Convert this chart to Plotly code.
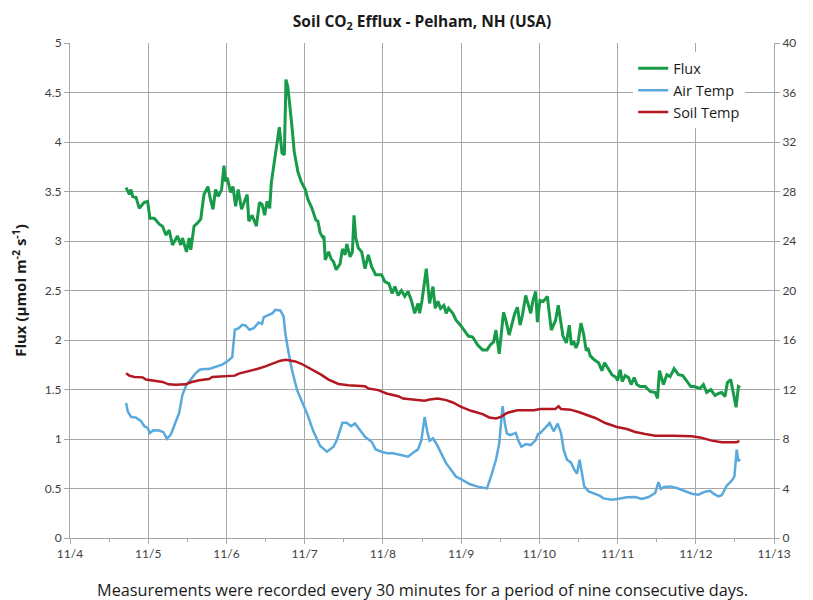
import pandas as pd
import plotly.graph_objects as go

# Time axis: days elapsed since 11/4 00:00
BASE = "2012-11-04"

flux_days = [0.717, 0.759, 0.780, 0.802, 0.844, 0.886, 0.950, 0.992, 1.022, 1.077, 1.141, 1.183, 1.226, 1.268,
             1.310, 1.374, 1.416, 1.438, 1.489, 1.523, 1.544, 1.586, 1.628, 1.671, 1.713, 1.764, 1.790, 1.828,
             1.861, 1.896, 1.938, 1.968, 1.989, 2.010, 2.053, 2.083, 2.117, 2.150, 2.193, 2.235, 2.265, 2.286,
             2.328, 2.383, 2.422, 2.455, 2.489, 2.519, 2.553, 2.574, 2.625, 2.676, 2.710, 2.740, 2.761, 2.786,
             2.837, 2.867, 2.913, 2.956, 3.008, 3.042, 3.093, 3.144, 3.169, 3.199, 3.229, 3.246, 3.263, 3.305,
             3.339, 3.369, 3.403, 3.453, 3.483, 3.517, 3.538, 3.581, 3.610, 3.631, 3.653, 3.686, 3.729, 3.771,
             3.814, 3.856, 3.907, 3.983, 4.025, 4.076, 4.119, 4.153, 4.195, 4.237, 4.280, 4.322, 4.364, 4.407,
             4.449, 4.470, 4.500, 4.555, 4.597, 4.640, 4.669, 4.703, 4.737, 4.780, 4.809, 4.839, 4.894, 4.936,
             4.992, 5.042, 5.093, 5.148, 5.212, 5.275, 5.331, 5.373, 5.415, 5.445, 5.487, 5.542, 5.572, 5.614,
             5.657, 5.686, 5.720, 5.754, 5.784, 5.826, 5.869, 5.890, 5.919, 5.953, 5.975, 6.008, 6.051, 6.102,
             6.153, 6.208, 6.242, 6.268, 6.302, 6.345, 6.383, 6.409, 6.438, 6.468, 6.494, 6.532, 6.566, 6.600,
             6.621, 6.651, 6.702, 6.757, 6.800, 6.834, 6.885, 6.928, 6.983, 7.000, 7.034, 7.060, 7.098, 7.140,
             7.174, 7.213, 7.247, 7.289, 7.353, 7.417, 7.481, 7.511, 7.536, 7.587, 7.630, 7.672, 7.723, 7.779,
             7.834, 7.885, 7.936, 7.979, 8.013, 8.055, 8.098, 8.140, 8.191, 8.247, 8.289, 8.332, 8.374, 8.404,
             8.447, 8.481, 8.515, 8.545, 8.566]
flux_vals = [3.54, 3.47, 3.52, 3.45, 3.44, 3.33, 3.39, 3.40, 3.23, 3.23, 3.17, 3.15, 3.06, 3.11,
             2.96, 3.05, 2.96, 3.03, 2.89, 3.03, 2.91, 3.15, 3.18, 3.22, 3.47, 3.55, 3.44, 3.32,
             3.52, 3.45, 3.52, 3.76, 3.60, 3.64, 3.49, 3.55, 3.35, 3.52, 3.32, 3.40, 3.47, 3.20,
             3.26, 3.15, 3.39, 3.37, 3.26, 3.40, 3.33, 3.59, 3.86, 4.15, 3.89, 3.87, 4.63, 4.55,
             4.16, 3.90, 3.70, 3.60, 3.52, 3.42, 3.33, 3.21, 3.20, 3.08, 3.04, 3.05, 2.81, 2.89,
             2.82, 2.79, 2.71, 2.77, 2.92, 2.86, 2.97, 2.84, 2.89, 3.26, 3.03, 2.93, 2.89, 2.72,
             2.86, 2.74, 2.66, 2.66, 2.59, 2.57, 2.47, 2.54, 2.45, 2.50, 2.44, 2.49, 2.40, 2.27,
             2.37, 2.27, 2.40, 2.72, 2.37, 2.54, 2.32, 2.39, 2.32, 2.35, 2.27, 2.32, 2.27, 2.20,
             2.15, 2.10, 2.04, 2.03, 1.95, 1.90, 1.90, 1.95, 1.98, 2.10, 1.86, 2.28, 2.20, 2.05,
             2.17, 2.27, 2.33, 2.15, 2.25, 2.45, 2.33, 2.27, 2.40, 2.49, 2.18, 2.40, 2.39, 2.44,
             2.10, 2.20, 2.35, 2.19, 2.04, 1.97, 2.15, 1.95, 1.99, 1.92, 1.97, 2.17, 2.06, 1.89,
             1.92, 1.84, 1.80, 1.77, 1.69, 1.77, 1.70, 1.65, 1.62, 1.59, 1.70, 1.58, 1.64, 1.62,
             1.55, 1.62, 1.55, 1.53, 1.53, 1.48, 1.47, 1.41, 1.69, 1.55, 1.65, 1.63, 1.71, 1.65,
             1.64, 1.58, 1.53, 1.53, 1.52, 1.51, 1.55, 1.47, 1.50, 1.44, 1.46, 1.47, 1.43, 1.57,
             1.60, 1.45, 1.32, 1.53, 1.52]

air_days = [0.717, 0.738, 0.780, 0.844, 0.908, 0.950, 0.992, 1.022, 1.064, 1.141, 1.196, 1.238, 1.289, 1.332,
            1.395, 1.438, 1.489, 1.544, 1.607, 1.658, 1.713, 1.777, 1.861, 1.946, 2.010, 2.074, 2.107, 2.158,
            2.201, 2.243, 2.294, 2.349, 2.413, 2.455, 2.477, 2.540, 2.591, 2.625, 2.689, 2.731, 2.752, 2.795,
            2.837, 2.901, 2.966, 3.030, 3.114, 3.199, 3.284, 3.369, 3.411, 3.483, 3.538, 3.593, 3.644, 3.708,
            3.771, 3.856, 3.907, 3.983, 4.059, 4.131, 4.216, 4.322, 4.386, 4.449, 4.492, 4.534, 4.568, 4.597,
            4.640, 4.682, 4.746, 4.809, 4.873, 4.936, 5.021, 5.106, 5.212, 5.297, 5.331, 5.381, 5.445, 5.487,
            5.508, 5.530, 5.559, 5.585, 5.627, 5.699, 5.729, 5.771, 5.826, 5.890, 5.953, 5.983, 6.013, 6.077,
            6.132, 6.183, 6.234, 6.277, 6.311, 6.353, 6.404, 6.447, 6.481, 6.515, 6.545, 6.574, 6.630, 6.694,
            6.770, 6.821, 6.928, 7.034, 7.119, 7.226, 7.311, 7.396, 7.481, 7.523, 7.553, 7.596, 7.672, 7.757,
            7.843, 7.949, 8.034, 8.119, 8.183, 8.226, 8.289, 8.332, 8.396, 8.460, 8.494, 8.523, 8.545, 8.566]
air_vals = [10.91, 10.24, 9.79, 9.73, 9.44, 9.03, 8.90, 8.49, 8.71, 8.68, 8.55, 8.01, 8.36, 9.03,
            10.11, 11.59, 12.39, 12.80, 13.33, 13.60, 13.66, 13.66, 13.82, 14.01, 14.27, 14.62, 16.83, 16.96,
            17.23, 17.18, 16.83, 16.96, 17.42, 17.31, 17.85, 18.04, 18.17, 18.44, 18.39, 17.90, 16.56, 14.95,
            13.60, 11.99, 11.00, 10.06, 8.58, 7.43, 6.97, 7.37, 7.91, 9.31, 9.31, 9.04, 9.26, 8.72,
            8.18, 7.78, 7.16, 6.97, 6.84, 6.84, 6.70, 6.57, 6.89, 7.16, 7.91, 9.79, 8.58, 7.86,
            8.05, 7.64, 6.84, 6.03, 5.49, 4.95, 4.68, 4.36, 4.15, 4.01, 4.01, 4.95, 6.30, 7.64,
            9.53, 10.66, 9.26, 8.45, 8.31, 8.50, 7.91, 7.37, 7.59, 7.51, 7.91, 8.40, 8.48, 8.89,
            9.29, 8.62, 9.24, 8.48, 7.14, 6.33, 6.11, 5.52, 5.20, 6.33, 5.12, 4.17, 3.77, 3.58,
            3.42, 3.20, 3.10, 3.20, 3.29, 3.31, 3.15, 3.31, 3.64, 4.52, 3.96, 4.12, 4.17, 4.04,
            3.82, 3.58, 3.50, 3.74, 3.82, 3.58, 3.37, 3.45, 4.23, 4.63, 4.98, 7.14, 6.20, 6.38]

soil_days = [0.717, 0.759, 0.823, 0.929, 0.971, 1.056, 1.183, 1.260, 1.353, 1.480, 1.544, 1.650, 1.777, 1.819,
             1.989, 2.107, 2.158, 2.286, 2.392, 2.498, 2.561, 2.689, 2.761, 2.837, 2.880, 2.964, 3.049, 3.134,
             3.210, 3.305, 3.432, 3.559, 3.771, 3.814, 3.941, 4.047, 4.195, 4.258, 4.407, 4.534, 4.597, 4.703,
             4.809, 4.894, 5.000, 5.127, 5.275, 5.360, 5.445, 5.508, 5.593, 5.720, 5.932, 6.013, 6.204, 6.247,
             6.277, 6.396, 6.502, 6.609, 6.715, 6.843, 6.991, 7.119, 7.226, 7.353, 7.481, 7.715, 7.949, 8.055,
             8.204, 8.332, 8.523, 8.557]
soil_vals = [13.31, 13.12, 13.01, 12.98, 12.80, 12.74, 12.61, 12.42, 12.39, 12.42, 12.58, 12.74, 12.85, 13.01,
             13.04, 13.12, 13.28, 13.47, 13.66, 13.87, 14.03, 14.33, 14.41, 14.30, 14.27, 14.06, 13.76, 13.52,
             13.20, 12.80, 12.45, 12.35, 12.27, 12.08, 11.95, 11.68, 11.46, 11.27, 11.14, 11.09, 11.19, 11.27,
             11.14, 10.95, 10.60, 10.28, 10.01, 9.74, 9.66, 9.79, 10.12, 10.33, 10.33, 10.42, 10.42, 10.64,
             10.42, 10.37, 10.18, 9.97, 9.70, 9.29, 8.97, 8.81, 8.57, 8.40, 8.27, 8.27, 8.22, 8.13,
             7.87, 7.73, 7.73, 7.84]

x_tick_days = list(range(0, 10))
x_tick_text = ["11/4", "11/5", "11/6", "11/7", "11/8", "11/9", "11/10", "11/11", "11/12", "11/13"]


def to_time(days):
    return pd.Timestamp(BASE) + pd.to_timedelta(days, unit="D")


GRID = "#a6a6a6"
TICKFONT = dict(family="Lato, Open Sans, sans-serif", size=12, color="#404040")

fig = go.Figure()
fig.add_trace(go.Scatter(x=to_time(flux_days), y=flux_vals, name="Flux", mode="lines",
                         line=dict(color="#179b48", width=3), yaxis="y"))
fig.add_trace(go.Scatter(x=to_time(air_days), y=air_vals, name="Air Temp", mode="lines",
                         line=dict(color="#5aa9dc", width=2.5), yaxis="y2"))
fig.add_trace(go.Scatter(x=to_time(soil_days), y=soil_vals, name="Soil Temp", mode="lines",
                         line=dict(color="#b3171f", width=2.5), yaxis="y2"))

fig.update_layout(
    width=813, height=600,
    margin=dict(l=59, r=47, t=35, b=70),
    paper_bgcolor="white", plot_bgcolor="white",
    title=dict(text="<b>Soil CO<sub>2</sub> Efflux - Pelham, NH (USA)</b>",
               x=0.5, xref="paper", y=0.978, yanchor="middle",
               font=dict(family="Open Sans, sans-serif", size=15.5, color="#1a1a1a")),
    xaxis=dict(type="date", range=[to_time(0), to_time(9)],
               tickvals=to_time(x_tick_days), ticktext=x_tick_text,
               showgrid=True, gridcolor=GRID, gridwidth=1,
               showline=True, linecolor=GRID, linewidth=1,
               ticks="outside", ticklen=5, tickcolor=GRID,
               minor=dict(dtick=43200000, ticks="outside", ticklen=3, tickcolor=GRID, showgrid=False),
               tickfont=TICKFONT, zeroline=False),
    yaxis=dict(range=[0, 5], dtick=0.5, tick0=0,
               showgrid=True, gridcolor=GRID, gridwidth=1,
               showline=True, linecolor=GRID, linewidth=1,
               ticks="outside", ticklen=5, tickcolor=GRID,
               tickfont=TICKFONT, zeroline=False,
               title=dict(text="<b>Flux (µmol m<sup>-2</sup> s<sup>-1</sup>)</b>", standoff=14,
                          font=dict(family="Open Sans, sans-serif", size=15, color="#1a1a1a"))),
    yaxis2=dict(range=[0, 40], dtick=4, tick0=0, overlaying="y", side="right",
                showgrid=False, showline=True, linecolor=GRID, linewidth=1,
                ticks="outside", ticklen=5, tickcolor=GRID,
                tickfont=TICKFONT, zeroline=False),
    legend=dict(x=0.80, y=0.981, xanchor="left", yanchor="top",
                bgcolor="white", borderwidth=0,
                font=dict(family="Open Sans, sans-serif", size=14.5, color="#1a1a1a"),
                tracegroupgap=0),
    showlegend=True,
)

fig.add_annotation(text="Measurements were recorded every 30 minutes for a period of nine consecutive days.",
                   xref="paper", yref="paper", x=0.5, y=-0.105, yanchor="middle", showarrow=False,
                   font=dict(family="Open Sans, sans-serif", size=16.3, color="#1a1a1a"))

fig.write_html("out.html")
